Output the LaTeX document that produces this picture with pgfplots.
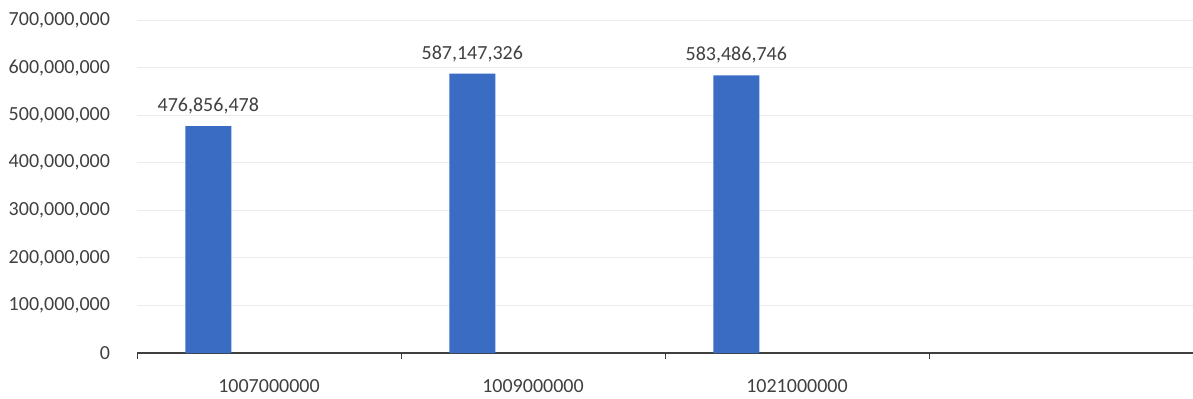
\documentclass[border=0pt]{standalone}
\usepackage{pgfplots}
\pgfplotsset{compat=1.18}
\usepackage{fontspec}
\setmainfont{Carlito}
\definecolor{barblue}{RGB}{58,108,196}
\definecolor{txt}{RGB}{64,64,64}
\begin{document}
\begin{tikzpicture}
\path[use as bounding box] (0,0) rectangle (596.5pt,199pt);
\begin{axis}[
  at={(68.5pt,22.5pt)}, anchor=south west,
  scale only axis, width=528pt, height=166.5pt,
  xmin=0, xmax=4, ymin=0, ymax=700000000,
  axis lines=left,
  axis line style={-},
  x axis line style={black!75, line width=0.6pt},
  y axis line style={draw=none},
  ytick={0,100000000,200000000,300000000,400000000,500000000,600000000,700000000},
  yticklabels={{0},{100,000,000},{200,000,000},{300,000,000},{400,000,000},{500,000,000},{600,000,000},{700,000,000}},
  scaled y ticks=false,
  ytick style={draw=none},
  ymajorgrids,
  grid style={black!8, line width=0.4pt},
  xtick={0,1,2,3,4},
  xticklabels={},
  tick align=outside,
  xtick style={black!75, line width=0.5pt},
  major tick length=3pt,
  extra x ticks={0.5,1.5,2.5},
  extra x tick labels={1007000000,1009000000,1021000000},
  extra x tick style={major tick length=0pt, tick style={draw=none}, xticklabel style={yshift=-9.5pt}},
  ticklabel style={font=\fontsize{10}{12}\selectfont, text=txt},
  yticklabel style={xshift=-7pt},
  ybar, bar width=23pt,
  point meta=explicit symbolic,
  nodes near coords={\pgfplotspointmeta},
  nodes near coords style={font=\fontsize{10}{12}\selectfont, text=txt, anchor=center, yshift=10pt},
  clip=false,
]
\addplot[fill=barblue, draw=none] coordinates {
  (0.27,476856478) [476,856,478]
  (1.27,587147326) [587,147,326]
  (2.27,583486746) [583,486,746]
};
\end{axis}
\end{tikzpicture}
\end{document}
